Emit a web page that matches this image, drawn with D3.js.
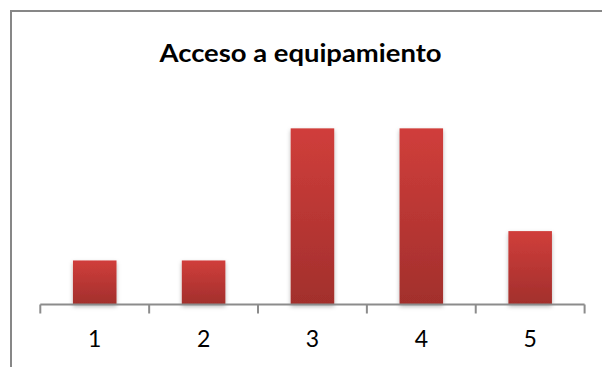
<!DOCTYPE html>
<html>
<head>
<meta charset="utf-8">
<script src="https://cdn.jsdelivr.net/npm/d3@7"></script>
<style>
  html, body { margin: 0; padding: 0; background: #fff; }
  svg { display: block; }
</style>
</head>
<body>
<svg id="chart" width="602" height="367"></svg>
<script>
// Chart data
const title = "Acceso a equipamiento";
const categories = ["1", "2", "3", "4", "5"];
const values = [3, 3, 12, 12, 5];
const yDomain = [0, 14];

const svg = d3.select("#chart");
const W = 602, H = 367;

// Plot area
const plot = { left: 40.3, right: 584.6, top: 99, bottom: 304.5 };

const x = d3.scaleBand()
  .domain(categories)
  .range([plot.left, plot.right])
  .paddingInner(0.6)
  .paddingOuter(0.3);

const y = d3.scaleLinear()
  .domain(yDomain)
  .range([plot.bottom, plot.top]);

const defs = svg.append("defs");

const grad = defs.append("linearGradient")
  .attr("id", "barGrad")
  .attr("x1", 0).attr("y1", 0).attr("x2", 0).attr("y2", 1);
grad.append("stop").attr("offset", "0%").attr("stop-color", "#d03e3b");
grad.append("stop").attr("offset", "100%").attr("stop-color", "#a22f2c");

const shadow = defs.append("filter")
  .attr("id", "barShadow")
  .attr("x", "-30%").attr("y", "-30%")
  .attr("width", "160%").attr("height", "160%");
shadow.append("feDropShadow")
  .attr("dx", 0).attr("dy", 2)
  .attr("stdDeviation", 2.2)
  .attr("flood-color", "#000")
  .attr("flood-opacity", 0.28);

// Chart frame (runs off the right and bottom edges)
svg.append("rect")
  .attr("x", 11).attr("y", 11)
  .attr("width", W + 20).attr("height", H + 20)
  .attr("fill", "none")
  .attr("stroke", "#878787")
  .attr("stroke-width", 2);

const font = "Lato, 'Open Sans', sans-serif";

// Title
svg.append("text")
  .attr("x", 300.5).attr("y", 62)
  .attr("text-anchor", "middle")
  .attr("font-family", font)
  .attr("font-weight", "bold")
  .attr("font-size", 25)
  .attr("fill", "#000")
  .attr("textLength", 282)
  .attr("lengthAdjust", "spacingAndGlyphs")
  .text(title);

// Bars
svg.append("g")
  .selectAll("rect")
  .data(values)
  .join("rect")
  .attr("x", (d, i) => x(categories[i]))
  .attr("y", d => y(d))
  .attr("width", x.bandwidth())
  .attr("height", d => y(0) - y(d))
  .attr("fill", "url(#barGrad)")
  .attr("filter", "url(#barShadow)");

// Category axis with ticks at band boundaries
const axisG = svg.append("g").attr("stroke", "#8c8c8c").attr("stroke-width", 2);
axisG.append("line")
  .attr("x1", plot.left).attr("x2", plot.right)
  .attr("y1", y(0)).attr("y2", y(0));

const step = x.step();
const boundaries = categories.map(c => x(c) - x.paddingOuter() * step);
boundaries.push(plot.right);
axisG.selectAll("line.tick")
  .data(boundaries)
  .join("line")
  .attr("class", "tick")
  .attr("x1", d => d).attr("x2", d => d)
  .attr("y1", y(0)).attr("y2", y(0) + 9);

svg.append("g")
  .selectAll("text")
  .data(categories)
  .join("text")
  .attr("x", c => x(c) + x.bandwidth() / 2)
  .attr("y", 347)
  .attr("text-anchor", "middle")
  .attr("font-family", font)
  .attr("font-size", 23)
  .attr("fill", "#000")
  .text(c => c);
</script>
</body>
</html>
